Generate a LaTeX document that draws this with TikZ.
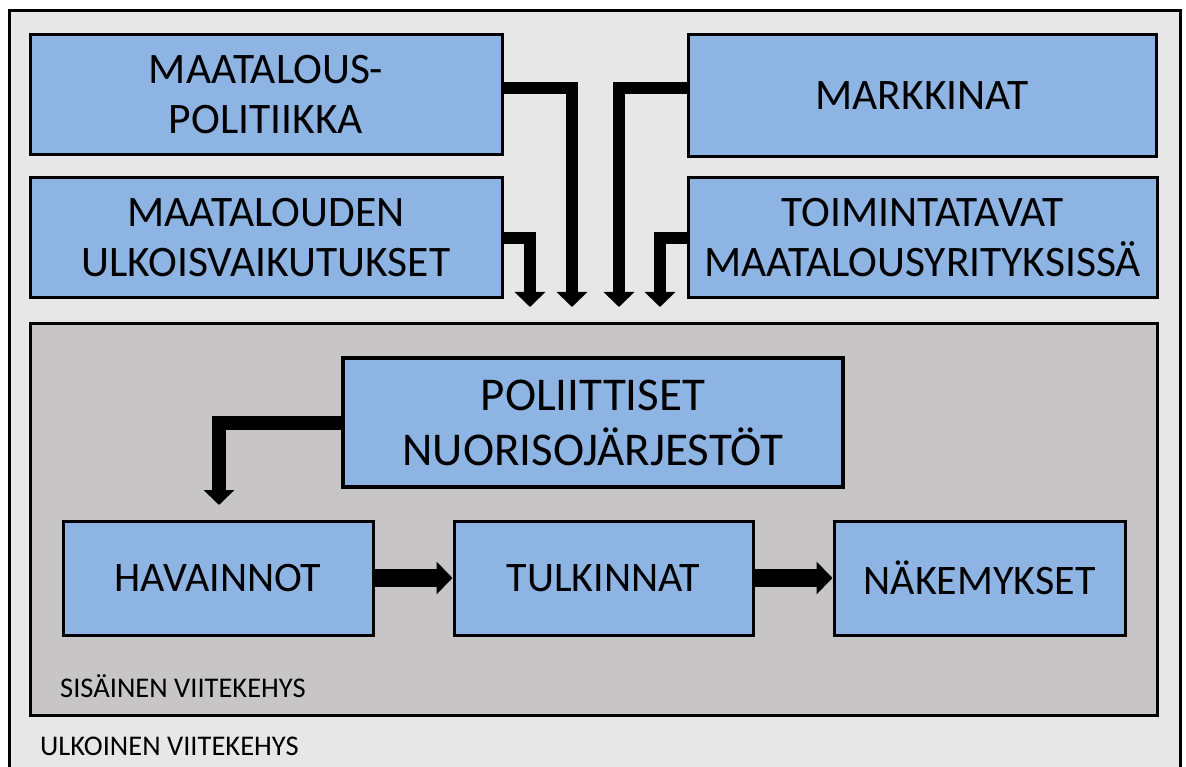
\documentclass[tikz,border=0pt]{standalone}
\usepackage{fontspec}
\setmainfont{Carlito}
\usetikzlibrary{arrows.meta}
\definecolor{outerbg}{HTML}{E8E7E7}
\definecolor{innerbg}{HTML}{C7C5C5}
\definecolor{boxblue}{HTML}{8DB4E2}

\begin{document}
\begin{tikzpicture}[x=1pt, y=-1pt]
	\tikzstyle{box}   = [draw, line width=3pt, fill=boxblue, align=center, inner sep=0pt, font=\fontsize{43.5}{50}\selectfont]
	\tikzstyle{feed}  = [line width=12.5pt, -{Triangle[width=30pt, length=15pt]}]
	\tikzstyle{flow}  = [line width=18pt, -{Triangle[width=32pt, length=16pt]}]
	\tikzstyle{frame} = [font=\fontsize{28.5}{34}\selectfont, anchor=west, inner sep=0pt]
	\useasboundingbox (0,0) rectangle (1186,767);

	%%Frames
	\draw[line width=3pt, fill=outerbg] (9,11) rectangle (1180,800);
	\draw[line width=3pt, fill=innerbg] (30,324) rectangle (1157,715);
	\node [frame](lsis) at (60,686) {SISÄINEN VIITEKEHYS};
	\node [frame](lulk) at (40,746) {ULKOINEN VIITEKEHYS};

	%%Outer factors
	\node [box, minimum width=472pt, minimum height=120pt](mpol) at (266,95) {MAATALOUS-\\POLITIIKKA};
	\node [box, minimum width=472pt, minimum height=120pt](mulk) at (266,238) {MAATALOUDEN\\ULKOISVAIKUTUKSET};
	\node [box, minimum width=468pt, minimum height=122pt](mark) at (922,96) {MARKKINAT};
	\node [box, minimum width=469pt, minimum height=120pt](toim) at (922.5,238) {TOIMINTATAVAT\\MAATALOUSYRITYKSISSÄ};

	%%Inner frame
	\node [box, line width=4.5pt, minimum width=500pt, minimum height=129pt, font=\fontsize{47}{55}\selectfont](poli) at (593,422.5) {POLIITTISET\\NUORISOJÄRJESTÖT};
	\node [box, minimum width=310pt, minimum height=114pt, font=\fontsize{42}{48}\selectfont](hav) at (218,578) {HAVAINNOT};
	\node [box, minimum width=299pt, minimum height=114pt, font=\fontsize{42}{48}\selectfont](tulk) at (603.5,578) {TULKINNAT};
	\node [box, minimum width=291pt, minimum height=114pt, font=\fontsize{42}{48}\selectfont](nake) at (979.5,578) {NÄKEMYKSET};

	\coordinate (t1) at (530,307);
	\coordinate (t2) at (572,307);
	\coordinate (t3) at (619,307);
	\coordinate (t4) at (660,307);
	\coordinate (t5) at (219,505);

	\draw[feed] (mulk.east)--(mulk.east -| t1) -- (t1);
	\draw[feed] ([yshift=7pt]mpol.east) -| (t2);
	\draw[feed] ([yshift=8pt]mark.west) -| (t3);
	\draw[feed] (toim.west) -| (t4);
	\draw[feed, line width=14pt] (poli.west) -| (t5);

	\draw[flow] (hav)--(tulk);
	\draw[flow] (tulk)--(nake);
\end{tikzpicture}
\end{document}
